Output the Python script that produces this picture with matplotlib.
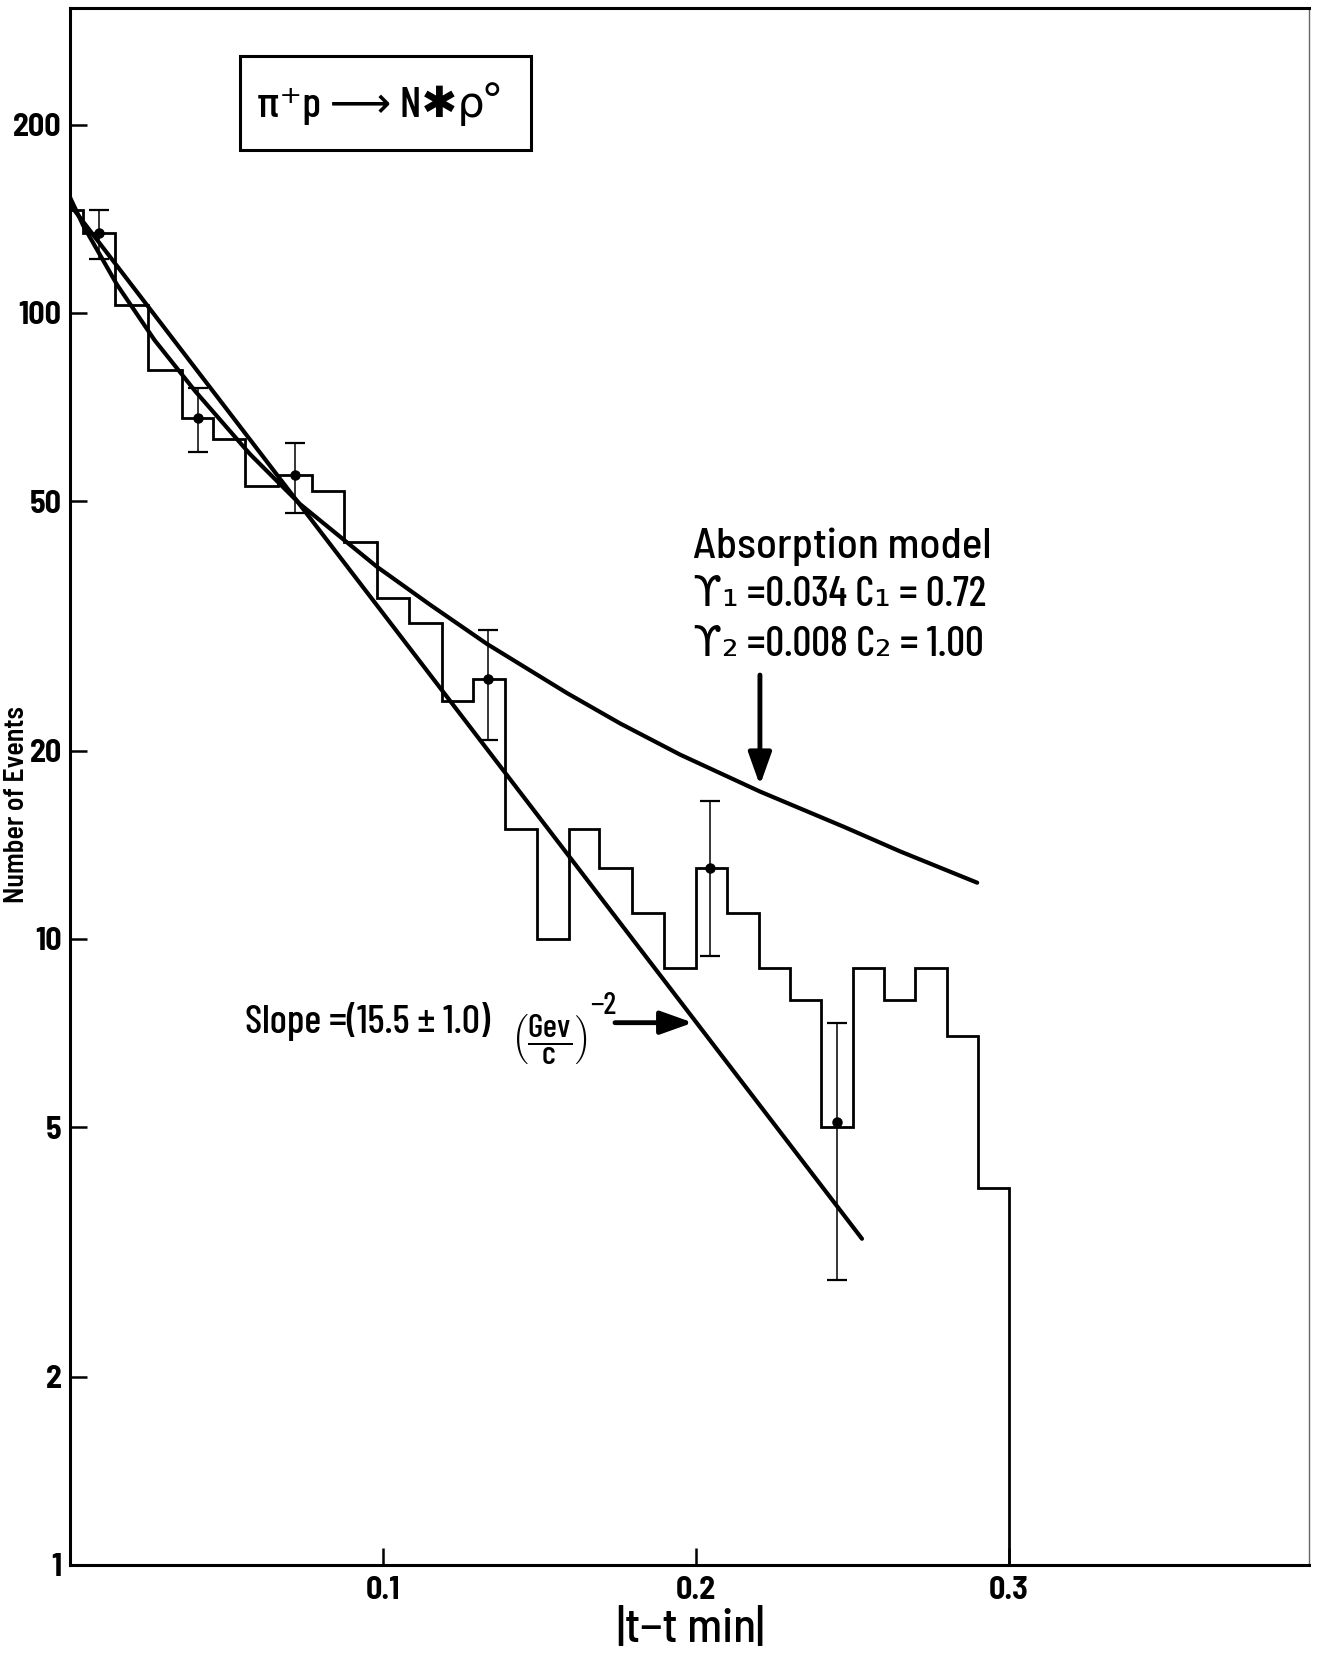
import matplotlib
matplotlib.use("Agg")
import matplotlib.pyplot as plt
from matplotlib.patches import Rectangle, ArrowStyle

FAM = ['Barlow Condensed', 'DejaVu Sans']
SEMI = ['Barlow Semi Condensed', 'DejaVu Sans']
plt.rcParams['font.family'] = FAM
plt.rcParams['font.weight'] = 500
plt.rcParams['mathtext.fontset'] = 'custom'
plt.rcParams['mathtext.rm'] = 'Barlow Condensed:medium'
plt.rcParams['mathtext.it'] = 'Barlow Condensed:medium'
plt.rcParams['mathtext.bf'] = 'Barlow Condensed:bold'

# histogram of |t - tmin| (bin edges and counts)
edges = [0, 0.004, 0.0144, 0.0249, 0.0358, 0.0457, 0.0559, 0.0665, 0.0773, 0.0875,
         0.0981, 0.1083, 0.1188, 0.1288, 0.139, 0.1492, 0.1594, 0.169, 0.1796, 0.1898,
         0.2, 0.21, 0.22, 0.23, 0.24, 0.25, 0.26, 0.27, 0.28, 0.29, 0.30]
counts = [146, 134, 103, 81, 68, 63, 53, 55, 52, 43, 35, 32, 24, 26, 15,
          10, 15, 13, 11, 9, 13, 11, 9, 8, 5, 9, 8, 9, 7, 4]

# points with error bars
pt_x = [0.0093, 0.041, 0.072, 0.1336, 0.2045, 0.245]
pt_y = [134, 68, 55, 26, 13, 5.1]
pt_err = [12, 8, 7, 5.2, 3.6, 2.25]

# exponential fit (straight on log scale)
fit_x = [0.0, 0.253]
fit_y = [149, 3.32]

# absorption model curve
abs_x = [0, 0.0042, 0.015, 0.027, 0.04, 0.0575, 0.0735, 0.0981, 0.115, 0.1332,
         0.1588, 0.1757, 0.1949, 0.2204, 0.2473, 0.2652, 0.2898]
abs_y = [153, 138, 111, 90.5, 75, 59.5, 49.5, 39.3, 34.2, 29.6,
         24.7, 22.1, 19.7, 17.2, 15.1, 13.8, 12.3]

yticks = [1, 2, 5, 10, 20, 50, 100, 200]
xticks = [0.1, 0.2, 0.3]

W, H = 1327, 1654
fig = plt.figure(figsize=(W / 100, H / 100), dpi=100)
ax = fig.add_axes([70 / W, 1 - 1565 / H, (1309 - 70) / W, (1565 - 8) / H])

ax.set_yscale('log')
ax.set_xlim(0, 0.3958)
ax.set_ylim(1, 307)

ax.stairs(counts, edges, baseline=1, color='black', lw=2.0)
ax.errorbar(pt_x, pt_y, yerr=pt_err, fmt='o', color='black', ms=6.5,
            elinewidth=1.1, capsize=7, capthick=1.6)
ax.plot(fit_x, fit_y, color='black', lw=3.0, solid_capstyle='round')
ax.plot(abs_x, abs_y, color='black', lw=3.0, solid_capstyle='round',
        solid_joinstyle='round')

ax.set_yticks(yticks)
ax.set_yticklabels([str(v) for v in yticks])
ax.set_xticks(xticks)
ax.set_xticklabels([str(v) for v in xticks])
ax.minorticks_off()
ax.tick_params(axis='both', direction='in', length=12, width=1.8,
               labelsize=23, pad=6)
ax.tick_params(axis='x', pad=8)
for lab in ax.get_xticklabels() + ax.get_yticklabels():
    lab.set_fontweight('bold')
    lab.set_family(SEMI)

for s in ['left', 'bottom', 'top']:
    ax.spines[s].set_linewidth(2.2)
ax.spines['right'].set_linewidth(1.0)
ax.spines['right'].set_color('0.4')

# arrows
head = ArrowStyle('-|>', head_length=0.7, head_width=0.25)
ax.annotate('', xy=(0.2204, 17.6), xytext=(0.2204, 26.4),
            arrowprops=dict(arrowstyle=head, lw=3.5, color='black',
                            mutation_scale=28, shrinkA=0, shrinkB=0))
ax.annotate('', xy=(0.199, 7.35), xytext=(0.1741, 7.35),
            arrowprops=dict(arrowstyle=head, lw=3.5, color='black',
                            mutation_scale=28, shrinkA=0, shrinkB=0))

# reaction box
fig.patches.append(Rectangle((240 / W, 1 - 150 / H), 291 / W, 94 / H,
                             transform=fig.transFigure, fill=False,
                             lw=2.2, color='black'))
fig.text(379 / W, 1 - 104 / H, "π⁺p ⟶ N✱ρ°", fontsize=31,
         ha='center', va='center')

# absorption model annotation
fig.text(693 / W, 1 - 558 / H, "Absorption model", fontsize=31, va='baseline',
         family=SEMI)
fig.text(693 / W, 1 - 606 / H, "ϒ₁ =0.034 C₁ = 0.72", fontsize=30, va='baseline')
fig.text(693 / W, 1 - 656 / H, "ϒ₂ =0.008 C₂ = 1.00", fontsize=30, va='baseline')

# slope annotation
fig.text(245 / W, 1 - 1033 / H, "Slope =(15.5 ± 1.0)", fontsize=29, va='baseline')
fig.text(511 / W, 1 - 1040 / H, r"$\left(\dfrac{\mathrm{Gev}}{\mathrm{c}}\right)$",
         fontsize=24, va='center')
fig.text(590 / W, 1 - 1014 / H, "−2", fontsize=22, va='baseline')

# axis labels
fig.text(17 / W, 1 - 805 / H, "Number of Events", fontsize=20, rotation=90,
         ha='center', va='center', fontweight=600, family=SEMI)
fig.text(691 / W, 1 - 1630 / H, "|t−t min|", fontsize=34, ha='center', va='center',
         family=SEMI)

fig.savefig("out.png", dpi=100)
